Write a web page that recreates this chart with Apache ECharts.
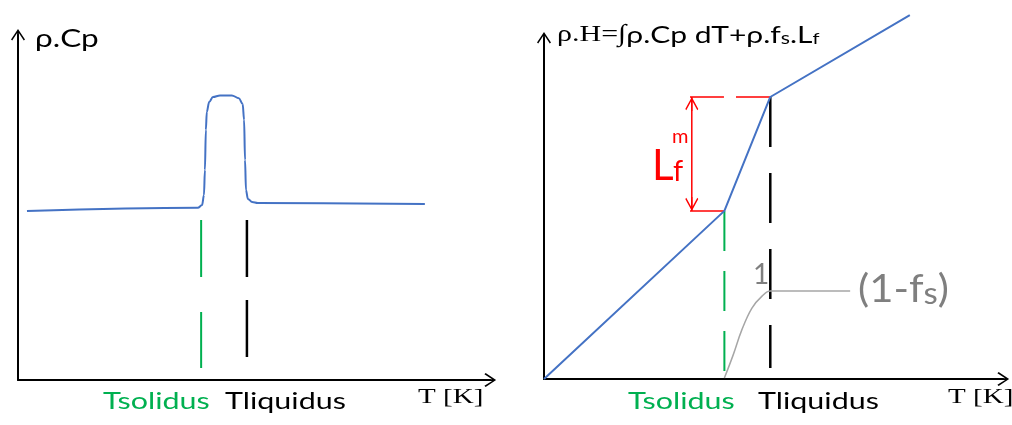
<!DOCTYPE html>
<html>
<head>
<meta charset="utf-8">
<script src="https://cdn.jsdelivr.net/npm/echarts@6/dist/echarts.min.js"></script>
<style>
  html, body { margin: 0; padding: 0; background: #ffffff; }
  #chart { width: 1012px; height: 425px; }
</style>
</head>
<body>
<div id="chart"></div>
<script>
// ---- Left panel: volumetric heat capacity rho.Cp versus temperature ----
const cpTemp  = [1.9, 38.1, 39.0, 39.4, 39.6, 39.8, 40.0, 40.5, 41.3, 42.8, 45.3, 46.8, 47.6, 47.9, 48.1, 48.3, 48.7, 49.6, 50.8, 86.2];
const cpValue = [49.0, 49.9, 50.7, 53.6, 60.9, 72.5, 77.7, 80.6, 82.0, 82.5, 82.5, 81.7, 80.0, 75.4, 63.8, 55.1, 52.5, 51.6, 51.3, 51.0];
const leftSolidus  = 38.8;
const leftLiquidus = 48.5;
const leftGuideTop = [46.4, 46.4];     // top of the solidus / liquidus guides
const leftGuideBottom = [3.5, 6.7];    // bottom of the solidus / liquidus guides

// ---- Right panel: volumetric enthalpy rho.H versus temperature ----
const hTemp  = [0, 39.3, 49.3, 79.7];
const hValue = [0, 49.3, 82.7, 106.7];
const rightSolidus  = 39.3;
const rightLiquidus = 49.3;
const latentLow  = 49.3;   // enthalpy at the solidus
const latentHigh = 82.7;   // enthalpy at the liquidus
const bracketLeft = 31.8;  // start of the red bracket ticks
const arrowTemp   = 32.2;  // position of the latent heat arrow
const liquidusGuideBottom = 3.2;

// liquid fraction (1 - fs), drawn on the same temperature axis
const fracTemp  = [39.3, 41.2, 43.1, 45.3, 47.5, 49.3, 66.7];
const fracValue = [0.3, 7.0, 14.4, 20.8, 24.3, 25.8, 25.8];

const BLUE = '#4472C4', GREEN = '#00B050', RED = '#FF0000', GREY_TEXT = '#7F7F7F', GREY_LINE = '#A6A6A6';
const SANS = 'Lato', SERIF = 'Liberation Serif';

// open chevron with a short stem, pointing up; rotated by ECharts along the axis
const ARROW = 'path://M8,0 L16,12 L14.6,13.4 L9,4.6 L9,14 L7,14 L7,4.6 L1.4,13.4 L0,12 Z';
const RED_ARROW = 'path://M8,0 L16,12 L14.8,13.2 L8.8,4.2 L8.8,14 L7.2,14 L7.2,4.2 L1.2,13.2 L0,12 Z';

const zip = (xs, ys) => xs.map((x, i) => [x, ys[i]]);

function axisPair(idx) {
  return {
    type: 'value', min: 0, max: 100, gridIndex: idx,
    axisLine: {
      show: true,
      symbol: ['none', ARROW],
      symbolSize: [14, 14],
      lineStyle: { color: '#000', width: 2 }
    },
    axisTick: { show: false }, axisLabel: { show: false }, splitLine: { show: false }
  };
}

function plain(name, data, xi, color, width, type, extra) {
  return Object.assign({
    name, type: 'line', xAxisIndex: xi, yAxisIndex: xi, data,
    showSymbol: false, symbol: 'none', silent: true,
    lineStyle: { color, width, type: type || 'solid' }
  }, extra || {});
}

const chart = echarts.init(document.getElementById('chart'), null, { renderer: 'canvas' });

const labelScale = 1.27;

chart.setOption({
  animation: false,
  backgroundColor: '#ffffff',
  grid: [
    { left: 18, top: 35, width: 472, height: 345 },
    { left: 544, top: 38, width: 459, height: 341 }
  ],
  xAxis: [axisPair(0), axisPair(1)],
  yAxis: [axisPair(0), axisPair(1)],
  series: [
    // left panel
    plain('rhoCp', zip(cpTemp, cpValue), 0, BLUE, 2, 'solid', { smooth: 0.35, smoothMonotone: 'x' }),
    plain('solidusL', [[leftSolidus, leftGuideTop[0]], [leftSolidus, leftGuideBottom[0]]], 0, GREEN, 2, [57, 35]),
    plain('liquidusL', [[leftLiquidus, leftGuideTop[1]], [leftLiquidus, leftGuideBottom[1]]], 0, '#000', 2.5, [57, 23]),

    // right panel
    plain('solidusR', [[rightSolidus, latentLow], [rightSolidus, 0]], 1, GREEN, 2, [40, 20]),
    plain('liquidusR', [[rightLiquidus, latentHigh], [rightLiquidus, liquidusGuideBottom]], 1, '#000', 2.5, [50, 26]),
    plain('bracketHigh', [[bracketLeft, latentHigh], [rightLiquidus, latentHigh]], 1, RED, 1.5, [34, 12]),
    plain('bracketLow', [[bracketLeft, latentLow], [rightSolidus, latentLow]], 1, RED, 1.5),
    {
      name: 'latentArrow', type: 'line', xAxisIndex: 1, yAxisIndex: 1, silent: true,
      showSymbol: true, symbolSize: [13, 14],
      itemStyle: { color: RED },
      lineStyle: { color: RED, width: 1.5 },
      data: [
        { value: [arrowTemp, latentHigh], symbol: RED_ARROW, symbolRotate: 0, symbolOffset: [0, 7] },
        { value: [arrowTemp, latentLow], symbol: RED_ARROW, symbolRotate: 180, symbolOffset: [0, -7] }
      ]
    },
    plain('liquidFraction', zip(fracTemp, fracValue), 1, GREY_LINE, 1.5, 'solid', { smooth: 0.4 }),
    plain('rhoH', zip(hTemp, hValue), 1, BLUE, 2, 'solid', { clip: false })
  ],
  graphic: [
    { type: 'text', x: 35, y: 39, scaleX: 1.26,
      style: { text: 'ρ.Cp', font: `25px ${SANS}`, fill: '#000', verticalAlign: 'middle' } },
    { type: 'text', x: 557, y: 33, scaleX: 1.25,
      style: {
        text: '{m|ρ.H=∫}{a|ρ.Cp dT+ρ.f}{b|s}{a|.L}{c|f}',
        verticalAlign: 'middle',
        rich: {
          m: { fontFamily: SERIF, fontSize: 24, fill: '#000', verticalAlign: 'bottom', lineHeight: 28 },
          a: { fontFamily: SANS, fontSize: 24, fill: '#000', verticalAlign: 'bottom', lineHeight: 28 },
          b: { fontFamily: SANS, fontSize: 17, fill: '#000', verticalAlign: 'bottom', lineHeight: 28 },
          c: { fontFamily: SANS, fontSize: 16, fill: '#000', verticalAlign: 'bottom', lineHeight: 28 }
        }
      } },

    { type: 'text', x: 103, y: 401, scaleX: labelScale,
      style: { text: 'Tsolidus', font: `24px ${SANS}`, fill: GREEN, verticalAlign: 'middle' } },
    { type: 'text', x: 225, y: 401, scaleX: labelScale,
      style: { text: 'Tliquidus', font: `24px ${SANS}`, fill: '#000', verticalAlign: 'middle' } },
    { type: 'text', x: 418, y: 397, scaleX: 1.32,
      style: { text: 'T [K]', font: `22px ${SERIF}`, fill: '#000', verticalAlign: 'middle' } },

    { type: 'text', x: 628, y: 401, scaleX: labelScale,
      style: { text: 'Tsolidus', font: `24px ${SANS}`, fill: GREEN, verticalAlign: 'middle' } },
    { type: 'text', x: 758, y: 401, scaleX: labelScale,
      style: { text: 'Tliquidus', font: `24px ${SANS}`, fill: '#000', verticalAlign: 'middle' } },
    { type: 'text', x: 948, y: 397, scaleX: 1.32,
      style: { text: 'T [K]', font: `22px ${SERIF}`, fill: '#000', verticalAlign: 'middle' } },

    { type: 'text', x: 652, y: 166,
      style: { text: 'L', font: `42px ${SANS}`, fill: RED, verticalAlign: 'middle' } },
    { type: 'text', x: 673, y: 172,
      style: { text: 'f', font: `29px ${SANS}`, fill: RED, verticalAlign: 'middle' } },
    { type: 'text', x: 672, y: 137,
      style: { text: 'm', font: `20px ${SANS}`, fill: RED, verticalAlign: 'middle' } },

    { type: 'text', x: 753, y: 275,
      style: { text: '1', font: `28px ${SANS}`, fill: GREY_TEXT, verticalAlign: 'middle' } },
    { type: 'text', x: 858, y: 286, scaleX: 1.1,
      style: {
        text: '{a|(1-f}{b|s}{a|)}',
        verticalAlign: 'middle',
        rich: {
          a: { fontFamily: SANS, fontSize: 38, fill: GREY_TEXT, verticalAlign: 'bottom', lineHeight: 46 },
          b: { fontFamily: SANS, fontSize: 30, fill: GREY_TEXT, verticalAlign: 'bottom', lineHeight: 46 }
        }
      } }
  ]
});
</script>
</body>
</html>
